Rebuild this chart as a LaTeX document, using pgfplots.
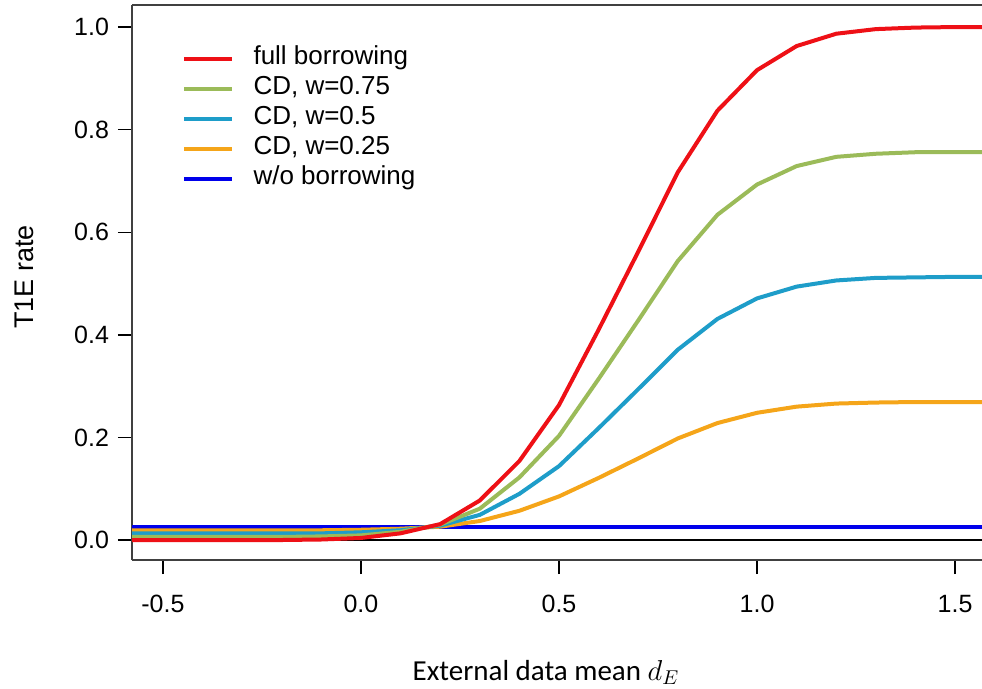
\documentclass[border=0pt]{standalone}
\usepackage{fontspec}
\setmainfont{Liberation Sans}
\newfontfamily\labelfont{Carlito}
\usepackage{pgfplots}
\usepackage{pgfplotstable}
\pgfplotsset{compat=1.18}
\usetikzlibrary{calc}

\definecolor{cfull}{RGB}{238,16,22}
\definecolor{cseventyfive}{RGB}{155,187,89}
\definecolor{chalf}{RGB}{30,157,201}
\definecolor{cquarter}{RGB}{245,165,25}
\definecolor{cnone}{RGB}{0,0,235}
\definecolor{cframe}{RGB}{64,64,64}

% type I error rate against the external data mean
\pgfplotstableread{
x     full   w75    w50    w25    wo
-0.6  0.000  0.006  0.013  0.019  0.025
-0.5  0.000  0.006  0.013  0.019  0.025
-0.4  0.000  0.006  0.013  0.019  0.025
-0.3  0.000  0.006  0.013  0.019  0.025
-0.2  0.000  0.006  0.013  0.019  0.025
-0.1  0.001  0.007  0.013  0.019  0.025
0.0   0.004  0.009  0.015  0.020  0.025
0.1   0.013  0.016  0.019  0.022  0.025
0.2   0.031  0.030  0.028  0.026  0.025
0.3   0.077  0.061  0.049  0.037  0.025
0.4   0.154  0.122  0.090  0.057  0.025
0.5   0.263  0.203  0.144  0.085  0.025
0.6   0.410  0.314  0.218  0.121  0.025
0.7   0.562  0.428  0.294  0.159  0.025
0.8   0.717  0.544  0.371  0.198  0.025
0.9   0.837  0.634  0.431  0.228  0.025
1.0   0.916  0.693  0.471  0.248  0.025
1.1   0.963  0.729  0.494  0.260  0.025
1.2   0.987  0.747  0.506  0.266  0.025
1.3   0.996  0.753  0.511  0.268  0.025
1.4   0.999  0.756  0.512  0.269  0.025
1.5   1.000  0.756  0.513  0.269  0.025
1.6   1.000  0.756  0.513  0.269  0.025
}\tone

\begin{document}
\begin{tikzpicture}
\begin{axis}[
  name=ax,
  scale only axis,
  width=425pt, height=277.5pt,
  xmin=-0.578, xmax=1.568,
  ymin=-0.039, ymax=1.043,
  axis x line*=box, axis y line*=left,
  axis line style={cframe, line width=0.9pt},
  xtick={-0.5,0,0.5,1,1.5},
  xticklabels={-0.5,0.0,0.5,1.0,1.5},
  ytick={0,0.2,0.4,0.6,0.8,1},
  yticklabels={0.0,0.2,0.4,0.6,0.8,1.0},
  xtick pos=left, ytick pos=left,
  tick align=outside,
  major tick length=7pt,
  tick style={black, line width=0.7pt},
  ticklabel style={font=\fontsize{12.5}{14}\selectfont},
  xticklabel style={yshift=-7pt},
  yticklabel style={xshift=-1pt},
  xlabel={\labelfont External data mean $d_E$},
  xlabel style={at={(axis description cs:0.487,-0.202)}, anchor=center, font=\fontsize{14.5}{16}\selectfont},
  ylabel={T1E rate},
  ylabel style={at={(axis description cs:-0.127,0.51)}, anchor=center, rotate=0, font=\fontsize{13.5}{16}\selectfont},
  reverse legend,
  legend style={draw=none, fill=none, at={(axis description cs:0.0585,0.931)}, anchor=north west,
    font=\fontsize{13}{15}\selectfont, row sep=0pt, column sep=5.5pt, inner sep=0pt,
    nodes={inner xsep=4pt, inner ysep=1pt, text height=9.5pt, text depth=3.5pt}},
  legend cell align=left,
  legend image code/.code={\draw[#1, line width=2.2pt] (0pt,0pt) -- (24pt,0pt);},
]
\addplot[black, line width=0.6pt, forget plot] coordinates {(-1,0) (2,0)};
\addplot[cnone, line width=2.3pt] table[x=x, y=wo] {\tone};
\addlegendentry{w/o borrowing}
\addplot[cquarter, line width=2pt] table[x=x, y=w25] {\tone};
\addlegendentry{CD, w=0.25}
\addplot[chalf, line width=2pt] table[x=x, y=w50] {\tone};
\addlegendentry{CD, w=0.5}
\addplot[cseventyfive, line width=2pt] table[x=x, y=w75] {\tone};
\addlegendentry{CD, w=0.75}
\addplot[cfull, line width=2pt] table[x=x, y=full] {\tone};
\addlegendentry{full borrowing}
\end{axis}
\pgfresetboundingbox
\path[use as bounding box] ($(ax.south west)+(-66pt,-64pt)$) rectangle ($(ax.north east)+(0pt,2.5pt)$);
\end{tikzpicture}
\end{document}
